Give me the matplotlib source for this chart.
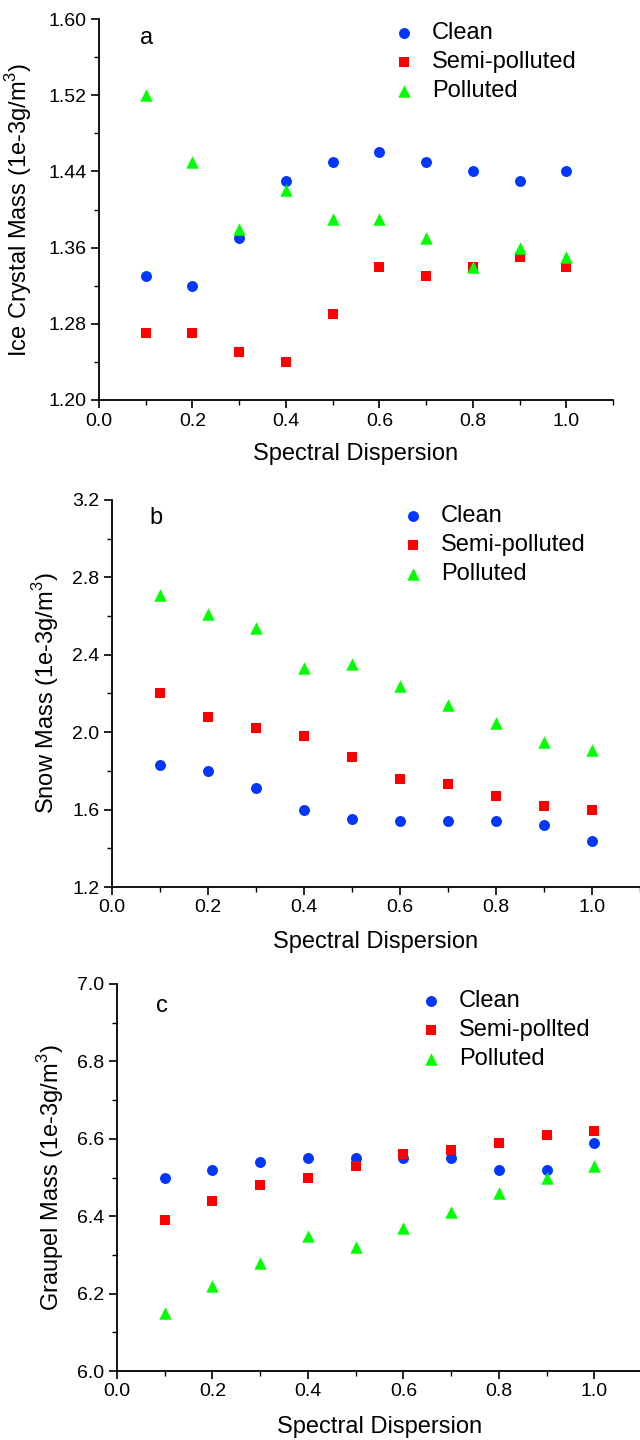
import matplotlib
matplotlib.use("Agg")
import matplotlib.pyplot as plt
from matplotlib.ticker import MultipleLocator, FormatStrFormatter

plt.rcParams['font.family'] = ['Liberation Sans', 'DejaVu Sans']
plt.rcParams['mathtext.fontset'] = 'custom'
plt.rcParams['mathtext.rm'] = 'Liberation Sans'

x = [0.1, 0.2, 0.3, 0.4, 0.5, 0.6, 0.7, 0.8, 0.9, 1.0]

ice_clean = [1.33, 1.32, 1.37, 1.43, 1.45, 1.46, 1.45, 1.44, 1.43, 1.44]
ice_semi = [1.27, 1.27, 1.25, 1.24, 1.29, 1.34, 1.33, 1.34, 1.35, 1.34]
ice_poll = [1.52, 1.45, 1.38, 1.42, 1.39, 1.39, 1.37, 1.34, 1.36, 1.35]

snow_clean = [1.83, 1.80, 1.71, 1.60, 1.55, 1.54, 1.54, 1.54, 1.52, 1.44]
snow_semi = [2.20, 2.08, 2.02, 1.98, 1.87, 1.76, 1.73, 1.67, 1.62, 1.60]
snow_poll = [2.71, 2.61, 2.54, 2.33, 2.35, 2.24, 2.14, 2.05, 1.95, 1.91]

grau_clean = [6.50, 6.52, 6.54, 6.55, 6.55, 6.55, 6.55, 6.52, 6.52, 6.59]
grau_semi = [6.39, 6.44, 6.48, 6.50, 6.53, 6.56, 6.57, 6.59, 6.61, 6.62]
grau_poll = [6.15, 6.22, 6.28, 6.35, 6.32, 6.37, 6.41, 6.46, 6.50, 6.53]

W, H = 640.0, 1440.0

# pixel layout: (left, right_at_1.1, top, bottom), label positions
panels = [
    dict(px=(99, 613, 19, 400), data=(ice_clean, ice_semi, ice_poll),
         labels=("Clean", "Semi-polluted", "Polluted"), tag="a", tagxy=(147, 38),
         legxy=(392, 62), ylx=34, xly=443,
         ylabel="Ice Crystal Mass (1e-3g/m$^3$)", ylim=(1.20, 1.60), major=0.08, fmt="%.2f"),
    dict(px=(112, 640, 500, 887), data=(snow_clean, snow_semi, snow_poll),
         labels=("Clean", "Semi-polluted", "Polluted"), tag="b", tagxy=(156, 518),
         legxy=(401, 545), ylx=61, xly=931,
         ylabel="Snow Mass (1e-3g/m$^3$)", ylim=(1.2, 3.2), major=0.4, fmt="%.1f"),
    dict(px=(117, 642, 984, 1371), data=(grau_clean, grau_semi, grau_poll),
         labels=("Clean", "Semi-pollted", "Polluted"), tag="c", tagxy=(162, 1006),
         legxy=(419, 1030), ylx=66, xly=1416,
         ylabel="Graupel Mass (1e-3g/m$^3$)", ylim=(6.0, 7.0), major=0.2, fmt="%.1f"),
]

colors = ["#0037FF", "#FF0000", "#00FF00"]
markers = ["o", "s", "^"]
sizes = [62, 52, 80]

fig = plt.figure(figsize=(6.4, 14.4), dpi=100)
for p in panels:
    l, r, t, b = p["px"]
    ax = fig.add_axes([l / W, 1 - b / H, (r - l) / W, (b - t) / H])
    for vals, lab, c, m, s in zip(p["data"], p["labels"], colors, markers, sizes):
        ax.scatter(x, vals, c=c, marker=m, s=s, label=lab, linewidths=0, zorder=3, clip_on=False)
    ax.set_xlim(0.0, 1.1)
    ax.set_ylim(*p["ylim"])
    ax.xaxis.set_major_locator(MultipleLocator(0.2))
    ax.xaxis.set_minor_locator(MultipleLocator(0.1))
    ax.yaxis.set_major_locator(MultipleLocator(p["major"]))
    ax.yaxis.set_minor_locator(MultipleLocator(p["major"] / 2))
    ax.xaxis.set_major_formatter(FormatStrFormatter("%.1f"))
    ax.yaxis.set_major_formatter(FormatStrFormatter(p["fmt"]))
    for side in ("top", "right"):
        ax.spines[side].set_visible(False)
    for side in ("left", "bottom"):
        ax.spines[side].set_linewidth(1.3)
    ax.tick_params(which="major", direction="out", length=6, width=1.2, labelsize=14, pad=3)
    ax.tick_params(which="minor", direction="out", length=3.5, width=1.0)
    ax.set_xlabel("Spectral Dispersion", fontsize=17)
    ax.xaxis.set_label_coords(((l + r) / 2) / W, 1 - p["xly"] / H, transform=fig.transFigure)
    ax.set_ylabel(p["ylabel"], fontsize=17)
    ax.yaxis.set_label_coords(p["ylx"] / W, 1 - ((t + b) / 2) / H, transform=fig.transFigure)
    fig.text(p["tagxy"][0] / W, 1 - p["tagxy"][1] / H, p["tag"], fontsize=17,
             ha="center", va="center")
    ax.legend(loc="center left", bbox_to_anchor=(p["legxy"][0] / W, 1 - p["legxy"][1] / H),
              bbox_transform=fig.transFigure, frameon=False, fontsize=17,
              handletextpad=0.69, handlelength=1.0, labelspacing=0.3, borderpad=0,
              borderaxespad=0, scatterpoints=1)

fig.savefig("out.png", dpi=100)
